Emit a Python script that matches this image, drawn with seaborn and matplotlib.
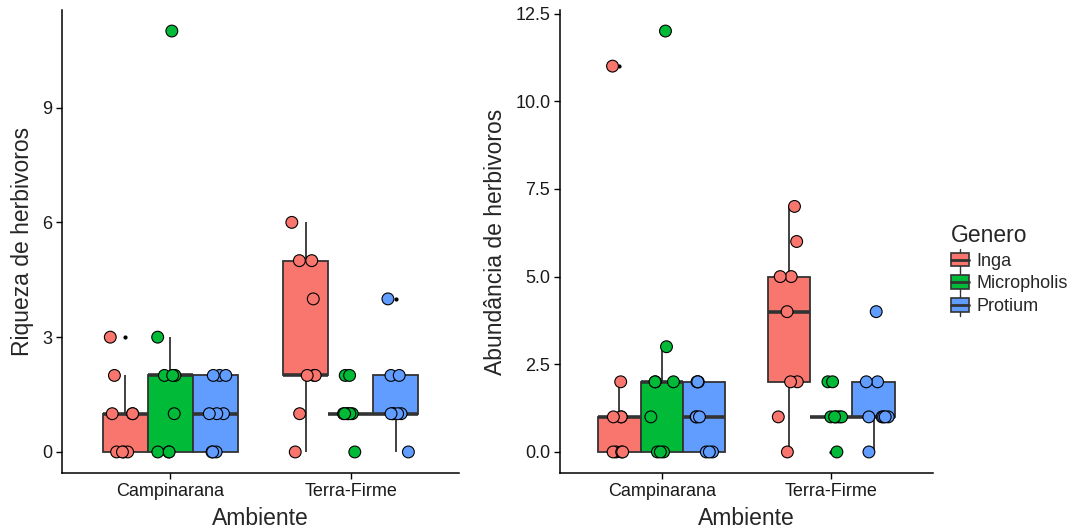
import numpy as np
import pandas as pd
import matplotlib
matplotlib.use("Agg")
import matplotlib.pyplot as plt
import seaborn as sns
from matplotlib.patches import Rectangle, Patch
from matplotlib.lines import Line2D
from matplotlib.legend_handler import HandlerBase

# --- data ---
ambientes = ["Campinarana", "Terra-Firme"]
generos = ["Inga", "Micropholis", "Protium"]
cores = ["#F8766D", "#00BA38", "#619CFF"]

# riqueza de herbivoros per plant
riq_camp_inga = [0, 0, 0, 0, 1, 1, 1, 2, 3]
riq_camp_micro = [0, 0, 0, 1, 2, 2, 2, 3, 11]
riq_camp_prot = [0, 0, 0, 1, 1, 1, 2, 2, 2]
riq_tf_inga = [0, 1, 2, 2, 2, 4, 5, 5, 6]
riq_tf_micro = [0, 1, 1, 1, 1, 1, 1, 2, 2]
riq_tf_prot = [0, 1, 1, 1, 1, 1, 2, 2, 4]

# abundancia de herbivoros per plant
abu_camp_inga = [0, 0, 0, 0, 1, 1, 1, 2, 11]
abu_camp_micro = [0, 0, 0, 1, 2, 2, 2, 3, 12]
abu_camp_prot = [0, 0, 0, 1, 1, 1, 2, 2, 2]
abu_tf_inga = [0, 1, 2, 2, 4, 5, 5, 6, 7]
abu_tf_micro = [0, 1, 1, 1, 1, 1, 1, 2, 2]
abu_tf_prot = [0, 1, 1, 1, 1, 1, 2, 2, 4]

riq = [[riq_camp_inga, riq_camp_micro, riq_camp_prot],
       [riq_tf_inga, riq_tf_micro, riq_tf_prot]]
abu = [[abu_camp_inga, abu_camp_micro, abu_camp_prot],
       [abu_tf_inga, abu_tf_micro, abu_tf_prot]]

rows = []
for i, amb in enumerate(ambientes):
    for j, gen in enumerate(generos):
        for r, a in zip(riq[i][j], abu[i][j]):
            rows.append({"Ambiente": amb, "Genero": gen, "Riqueza": r, "Abundancia": a})
df = pd.DataFrame(rows)

# --- styling ---
sns.set_style("white")
plt.rcParams["font.family"] = ["Liberation Sans", "DejaVu Sans"]
pal = dict(zip(generos, cores))
edge = "#333333"

fig = plt.figure(figsize=(10.82, 5.31), dpi=100)
ax1 = fig.add_axes([62 / 1082, 58 / 531, 397 / 1082, 463 / 531])
ax2 = fig.add_axes([560 / 1082, 58 / 531, 373 / 1082, 463 / 531])

np.random.seed(3)


def panel(ax, col, ylabel, ymax, ticks, fmt):
    sns.boxplot(data=df, x="Ambiente", y=col, hue="Genero", order=ambientes,
                hue_order=generos, palette=pal, width=0.75, gap=0,
                linecolor=edge, linewidth=1.3, showcaps=False,
                medianprops={"linewidth": 2.6, "color": edge},
                flierprops={"marker": "o", "markersize": 2,
                            "markerfacecolor": "black", "markeredgecolor": "black"},
                saturation=1, legend=False, ax=ax)
    sns.stripplot(data=df, x="Ambiente", y=col, hue="Genero", order=ambientes,
                  hue_order=generos, palette=pal, dodge=True, jitter=0.22,
                  size=8.5, edgecolor="black", linewidth=0.8, legend=False,
                  ax=ax, zorder=3)
    ax.set_xlim(-0.6, 1.6)
    ax.set_ylim(-0.05 * ymax, 1.05 * ymax)
    ax.set_yticks(ticks)
    ax.set_yticklabels([fmt.format(t) for t in ticks])
    ax.set_ylabel(ylabel, fontsize=16.5, labelpad=6)
    ax.set_xlabel("Ambiente", fontsize=16.5, labelpad=5)
    ax.tick_params(axis="both", labelsize=13, length=4, width=1,
                   color="black", labelcolor="#1a1a1a", left=True, bottom=True, pad=3)
    for s in ["top", "right"]:
        ax.spines[s].set_visible(False)
    for s in ["left", "bottom"]:
        ax.spines[s].set_color("black")
        ax.spines[s].set_linewidth(1.1)


panel(ax1, "Riqueza", "Riqueza de herbivoros", 11, [0, 3, 6, 9], "{:g}")
panel(ax2, "Abundancia", "Abundância de herbivoros", 12,
      [0, 2.5, 5, 7.5, 10, 12.5], "{:.1f}")


# legend keys drawn as little boxplots, like ggplot
class BoxHandler(HandlerBase):
    def create_artists(self, legend, orig_handle, xdescent, ydescent,
                       width, height, fontsize, trans):
        x0, y0 = -xdescent, -ydescent
        whisk = Line2D([x0 + width / 2] * 2, [y0 - 3, y0 + height + 3],
                       color=edge, lw=1, transform=trans)
        rect = Rectangle((x0, y0), width, height,
                         facecolor=orig_handle.get_facecolor(),
                         edgecolor=edge, lw=1.2, transform=trans)
        med = Line2D([x0, x0 + width], [y0 + height / 2] * 2,
                     color=edge, lw=2, transform=trans)
        return [whisk, rect, med]


handles = [Patch(facecolor=c) for c in cores]
leg = fig.legend(handles, generos, title="Genero", loc="upper left",
                 bbox_to_anchor=(935 / 1082, 1 - 208 / 531), frameon=False,
                 fontsize=13, title_fontsize=16.5, handlelength=1.0,
                 handleheight=0.8, handletextpad=0.4, labelspacing=0.3,
                 alignment="left", handler_map={Patch: BoxHandler()})

fig.savefig("out.png", dpi=100)
